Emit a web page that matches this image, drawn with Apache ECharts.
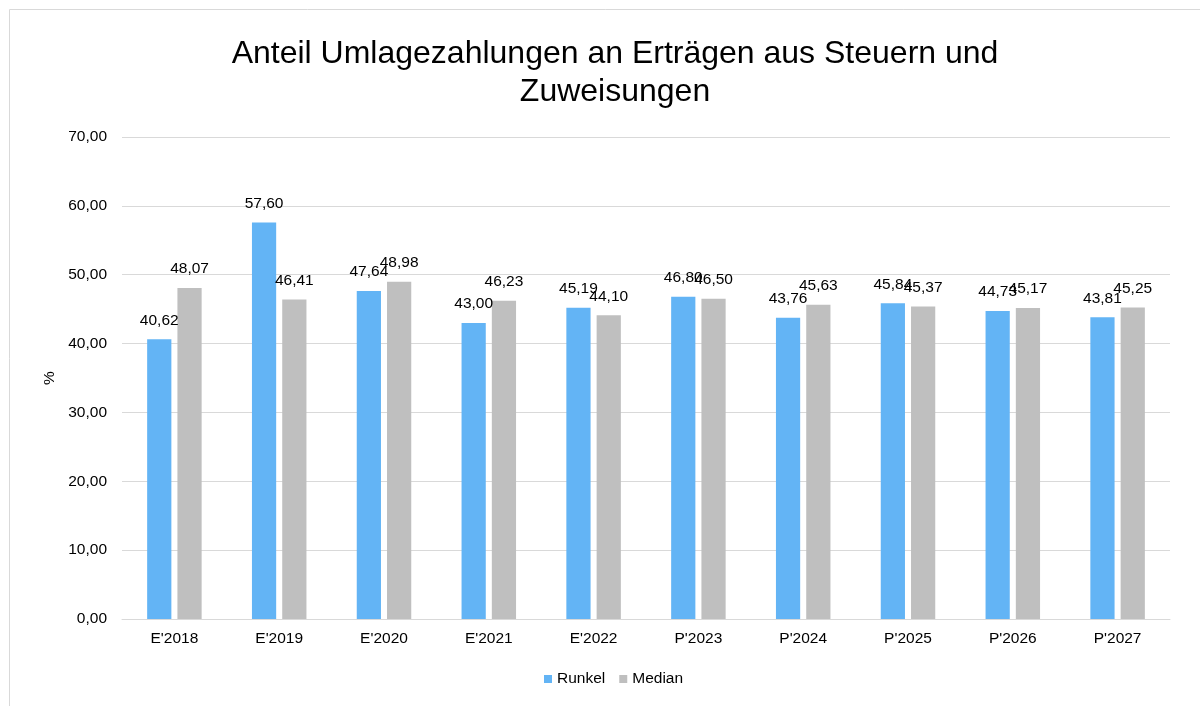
<!DOCTYPE html>
<html><head><meta charset="utf-8">
<script src="https://cdn.jsdelivr.net/npm/echarts@6/dist/echarts.min.js"></script>
<style>html,body{margin:0;padding:0;background:#fff}#c{width:1200px;height:706px}</style>
</head><body><div id="c"></div>
<script>
const categories = ["E'2018","E'2019","E'2020","E'2021","E'2022","P'2023","P'2024","P'2025","P'2026","P'2027"];
const runkel = [40.62,57.60,47.64,43.00,45.19,46.80,43.76,45.84,44.73,43.81];
const median = [48.07,46.41,48.98,46.23,44.10,46.50,45.63,45.37,45.17,45.25];
const fmt = v => v.toFixed(2).replace('.', ',');
const font = "'Liberation Sans', Arial, sans-serif";
const fs = 15.5;
const chart = echarts.init(document.getElementById('c'), null, {renderer:'canvas'});
const lbl = {show:true, position:'top', distance:11, color:'#000', fontSize:fs, fontFamily:font, formatter:p=>fmt(p.value)};
chart.setOption({
  animation:false,
  textStyle:{fontFamily:font},
  graphic:[{type:'rect', shape:{x:9.5,y:9.5,width:1300,height:800}, style:{fill:null, stroke:'#d9d9d9', lineWidth:1}, silent:true, z:-1}],
  title:{text:'Anteil Umlagezahlungen an Erträgen aus Steuern und\nZuweisungen', left:610, textAlign:'center', top:30,
    textStyle:{fontSize:32, fontWeight:'normal', color:'#000', fontFamily:font, lineHeight:38}},
  legend:{top:671, left:544, padding:0, itemWidth:8, itemHeight:8, itemGap:14, icon:'rect',
    textStyle:{fontSize:fs, color:'#000', fontFamily:font}, data:['Runkel','Median']},
  grid:{left:122, right:30, top:137, bottom:87},
  xAxis:{type:'category', data:categories, axisTick:{show:false},
    axisLine:{lineStyle:{color:'#d9d9d9'}}, axisLabel:{color:'#000', fontSize:fs, fontFamily:font, margin:12}},
  yAxis:{type:'value', min:0, max:70, interval:10, name:'%', nameLocation:'middle', nameGap:60, nameRotate:90,
    nameTextStyle:{color:'#000', fontSize:fs, fontFamily:font},
    axisLabel:{formatter:v=>fmt(v), color:'#000', fontSize:fs, fontFamily:font, margin:15},
    splitLine:{lineStyle:{color:'#d9d9d9'}}, axisLine:{show:false}, axisTick:{show:false}},
  series:[
    {name:'Runkel', type:'bar', data:runkel, itemStyle:{color:'#63b4f5'}, barGap:'25%', barCategoryGap:'48%', label:lbl},
    {name:'Median', type:'bar', data:median, itemStyle:{color:'#bfbfbf'}, label:lbl}
  ]
});
</script></body></html>
